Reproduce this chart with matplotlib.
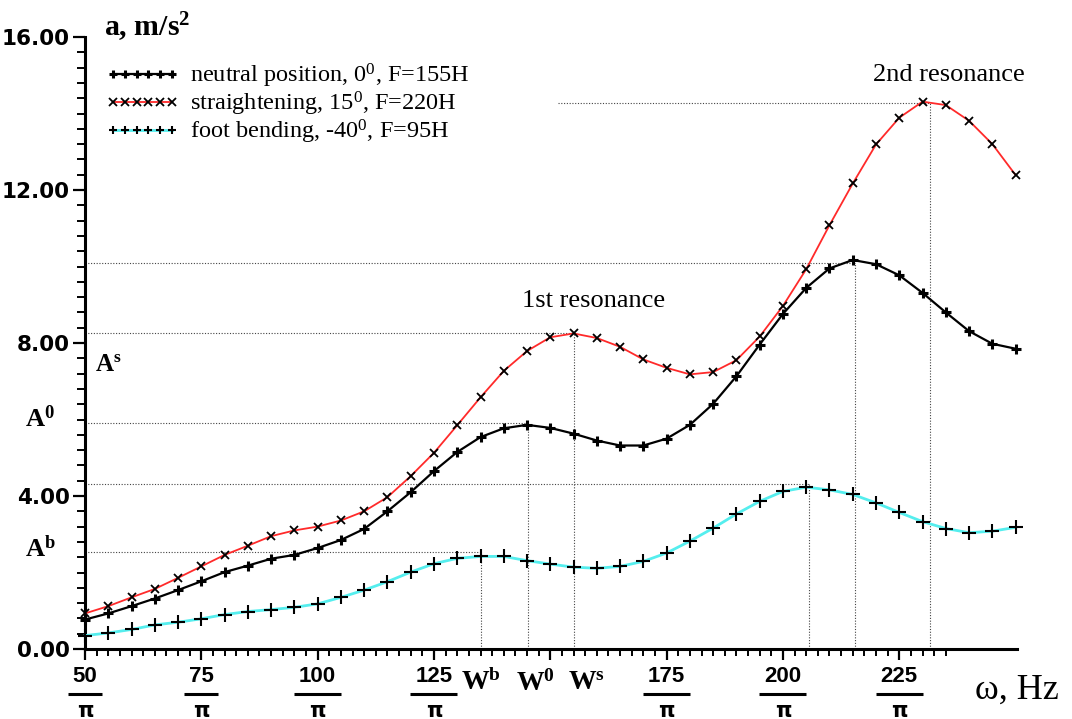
import numpy as np
import matplotlib
matplotlib.use("Agg")
import matplotlib.pyplot as plt

# ---------------- data ----------------
omega = list(range(50, 251, 5))

neutral = [0.77, 0.93, 1.12, 1.32, 1.54, 1.77, 2.01, 2.18, 2.36, 2.46, 2.64,
           2.85, 3.14, 3.60, 4.10, 4.65, 5.15, 5.54, 5.77, 5.86, 5.78,
           5.63, 5.45, 5.32, 5.32, 5.50, 5.86, 6.41, 7.13, 7.96, 8.76,
           9.44, 9.95, 10.17, 10.06, 9.77, 9.31, 8.80, 8.31, 7.98, 7.85]

straight = [0.93, 1.12, 1.35, 1.57, 1.86, 2.16, 2.46, 2.70, 2.95, 3.10, 3.20,
            3.36, 3.60, 3.97, 4.52, 5.13, 5.85, 6.58, 7.27, 7.79, 8.15,
            8.25, 8.13, 7.90, 7.57, 7.35, 7.18, 7.24, 7.55, 8.17, 8.97,
            9.93, 11.08, 12.17, 13.19, 13.89, 14.31, 14.22, 13.81, 13.20, 12.39]

bending = [0.35, 0.42, 0.51, 0.63, 0.70, 0.79, 0.90, 0.98, 1.03, 1.09, 1.18,
           1.35, 1.54, 1.76, 2.01, 2.23, 2.37, 2.42, 2.42, 2.31, 2.22,
           2.14, 2.11, 2.16, 2.29, 2.51, 2.82, 3.16, 3.53, 3.86, 4.12,
           4.23, 4.16, 4.04, 3.82, 3.57, 3.33, 3.15, 3.04, 3.08, 3.18]

labels = ["neutral position, 0$^0$, F=155H",
          "straightening, 15$^0$, F=220H",
          "foot bending, -40$^0$, F=95H"]

# resonance reference lines: (x of peak, amplitude, x start of horizontal line)
res_x = [135.2, 145.1, 155.0, 205.7, 215.5, 231.7]
res_a = [2.53, 5.91, 8.27, 4.32, 10.09, 14.27]
res_h0 = [50, 50, 50, 50, 50, 151.7]

xtick_major = [50, 75, 100, 125, 150, 175, 200, 225]
xtick_labels = {50: "50", 75: "75", 100: "100", 125: "125",
                175: "175", 200: "200", 225: "225"}
ytick_major = [0, 4, 8, 12, 16]

w_labels = [(461, r"W$^\mathbf{b}$"), (516, r"W$^\mathbf{0}$"), (568, r"W$^\mathbf{s}$")]

# ---------------- style ----------------
plt.rcParams['mathtext.fontset'] = 'custom'
plt.rcParams['mathtext.rm'] = 'Liberation Serif'
plt.rcParams['mathtext.it'] = 'Liberation Serif:italic'
plt.rcParams['mathtext.bf'] = 'Liberation Serif:bold'

W, H = 1072, 719
fig = plt.figure(figsize=(W / 100, H / 100), dpi=100)
X0, X1, Y0, Y1 = 85, 1017, 649, 37
ax = fig.add_axes([X0 / W, (H - Y0) / H, (X1 - X0) / W, (Y0 - Y1) / H])
ax.set_xlim(50, 250.3)
ax.set_ylim(0, 16)

for s in ['top', 'right']:
    ax.spines[s].set_visible(False)
for s in ['left', 'bottom']:
    ax.spines[s].set_linewidth(2.2)

# reference dotted lines
for xr, ar, h0 in zip(res_x, res_a, res_h0):
    ax.plot([h0, xr], [ar, ar], ls=(0, (1, 1.5)), color='#444444', lw=0.8, zorder=1)
    ax.plot([xr, xr], [0, ar], ls=(0, (1, 1.5)), color='#444444', lw=0.8, zorder=1)

l1, = ax.plot(omega, neutral, color='black', lw=1.6, marker='+', ms=7, mew=2.2,
              mec='black', zorder=4, clip_on=False)
l2, = ax.plot(omega, straight, color='#ff2a2a', lw=1.3, marker='x', ms=6, mew=1.3,
              mec='black', zorder=3, clip_on=False)
l3, = ax.plot(omega, bending, color='#55eeee', lw=2.0, marker='+', ms=10, mew=1.5,
              mec='black', zorder=3, clip_on=False)

# ticks
ax.set_xticks(xtick_major)
ax.set_xticks(np.arange(50, 235.1, 2.5), minor=True)
ax.set_xticklabels([])
ax.set_yticks(ytick_major)
ax.set_yticks(np.arange(0, 16.01, 0.4), minor=True)
ax.set_yticklabels([f"{v:.2f}" for v in ytick_major],
                   fontfamily='DejaVu Sans', fontweight='bold', fontsize=15.5)
ax.tick_params(axis='x', which='major', direction='out', length=8, width=1.6)
ax.tick_params(axis='x', which='minor', direction='out', length=5, width=1.4)
ax.tick_params(axis='y', which='major', direction='out', length=9, width=1.6, pad=2)
ax.tick_params(axis='y', which='minor', direction='out', length=6, width=1.4)

# fraction x tick labels
tr = ax.get_xaxis_transform()
ppx = (X1 - X0) / (250.3 - 50)
def ay(py):
    return (Y0 - py) / (Y0 - Y1)
for v, t in xtick_labels.items():
    ax.text(v, ay(677), t, transform=tr, ha='center', va='center',
            fontfamily='Liberation Sans', fontweight='bold', fontsize=16)
    half = (len(t) * 6.5 + 4) / ppx
    ax.plot([v - half, v + half], [ay(694), ay(694)], transform=tr, color='black',
            lw=2.2, clip_on=False, solid_capstyle='butt')
    ax.text(v, ay(711), "π", transform=tr, ha='center', va='center',
            fontfamily='DejaVu Sans', fontweight='bold', fontsize=15)

def ft(x, y, s, **kw):
    fig.text(x / W, 1 - y / H, s, **kw)

for xp, t in w_labels:
    ft(xp, 683, t, fontfamily='Liberation Serif', fontweight='bold', fontsize=20,
       va='center', ha='left')

ft(975, 690, "ω, Hz", fontfamily='Liberation Serif', fontsize=26, va='center', ha='left')
ft(104, 27, r"a, m/s$^\mathbf{2}$", fontfamily='Liberation Serif', fontweight='bold',
   fontsize=21.5, va='center', ha='left')
ft(522, 301, "1st resonance", fontfamily='Liberation Serif', fontsize=19, va='center', ha='left')
ft(873, 75, "2nd resonance", fontfamily='Liberation Serif', fontsize=19, va='center', ha='left')
ft(95, 365, r"A$^\mathbf{s}$", fontfamily='Liberation Serif', fontweight='bold',
   fontsize=18, va='center', ha='left')
ft(25, 419, r"A$^\mathbf{0}$", fontfamily='Liberation Serif', fontweight='bold',
   fontsize=19, va='center', ha='left')
ft(25, 549, r"A$^\mathbf{b}$", fontfamily='Liberation Serif', fontweight='bold',
   fontsize=19, va='center', ha='left')

leg = ax.legend([l1, l2, l3], labels, loc='upper left',
                bbox_to_anchor=(106 / W, 1 - 62 / H), bbox_transform=fig.transFigure,
                frameon=False, numpoints=6, handlelength=3.0, handletextpad=0.45,
                labelspacing=-0.02, borderpad=0, borderaxespad=0,
                prop={'family': 'Liberation Serif', 'size': 17.5})
for h in leg.legend_handles:
    h.set_markersize(6)

fig.savefig("out.png", dpi=100)
